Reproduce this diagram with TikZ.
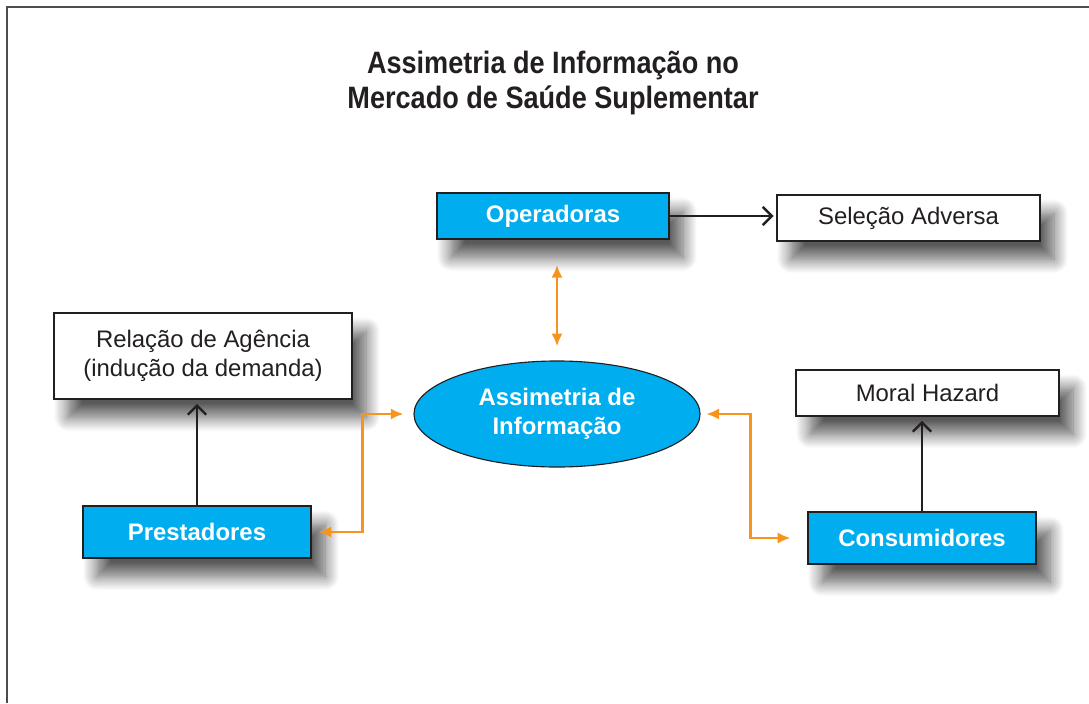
\documentclass[tikz,border=0pt]{standalone}
\usepackage{fontspec}
\setmainfont{Liberation Sans}
\usetikzlibrary{calc,arrows.meta,shapes.geometric,shadows.blur,positioning}
\definecolor{boxblue}{HTML}{00AEEF}
\definecolor{arrorange}{HTML}{F7941D}
\definecolor{darkline}{HTML}{231F20}

\begin{document}
\begin{tikzpicture}[x=0.025cm,y=-0.025cm]

\tikzset{bluebox/.style={font=\fontsize{17}{21}\selectfont\bfseries,text=white,fill=boxblue,draw=darkline,line width=0.8pt,minimum width=5.7cm,minimum height=1.3cm,inner sep=0pt,blur shadow={shadow xshift=10pt,shadow yshift=-13pt,shadow blur radius=10pt,shadow blur steps=14,shadow opacity=65}},
whitebox/.style={font=\fontsize{17}{21}\selectfont,text=darkline,fill=white,draw=darkline,line width=0.8pt,minimum width=6.575cm,minimum height=1.15cm,inner sep=0pt,align=center,blur shadow={shadow xshift=10pt,shadow yshift=-13pt,shadow blur radius=10pt,shadow blur steps=14,shadow opacity=65}},
blackarrow/.style={draw=darkline,line width=2pt,-{Straight Barb[length=2.3mm,width=4.6mm,line width=1.7pt]}},
orangearrow/.style={draw=arrorange,line width=2pt,{Latex[length=3.2mm,width=2.8mm]}-{Latex[length=3.2mm,width=2.8mm]}},
titletext/.style={font=\fontsize{22}{25}\selectfont\bfseries,align=center}}

\useasboundingbox (0,0) rectangle (1089,703);

% Frame
\draw[darkline!80,line width=0.8pt] (7,703) -- (7,7) -- (1089,7);

% Title
\node[titletext,text=darkline] (title) at (553,83) {\scalebox{0.876}[1]{Assimetria de Informação no}\\\scalebox{0.876}[1]{Mercado de Saúde Suplementar}};

% Boxes
\node[bluebox,minimum width=5.8cm,minimum height=1.15cm] (operadoras) at (553,216) {Operadoras};
\node[whitebox] (selecaoAdv) at (908.5,218) {Seleção Adversa};
\node[whitebox,minimum width=7.45cm,minimum height=2.15cm] (relAgencia) at (203,356) {Relação de Agência\\(indução da demanda)};
\node[bluebox] (prestadores) at (197,532) {Prestadores};
\node[whitebox] (moralHaz) at (927.5,393) {Moral Hazard};
\node[bluebox] (consumidores) at (922,538) {Consumidores};

% Centre ellipse
\node[shape=ellipse,fill=boxblue,draw=darkline,line width=0.8pt,minimum width=7.15cm,minimum height=2.65cm,inner sep=0pt,align=center,text=white,font=\fontsize{17}{21}\selectfont\bfseries] (assimInfo) at (557,414) {Assimetria de\\Informação};

% Black arrows
\draw[blackarrow,shorten >=2pt] (operadoras.east) -- (selecaoAdv.west |- operadoras.east);
\draw[blackarrow,shorten >=3pt] (prestadores.north) -- (prestadores.north |- relAgencia.south);
\draw[blackarrow,shorten >=3pt] (consumidores.north) -- (consumidores.north |- moralHaz.south);

% Orange arrows
\draw[orangearrow,shorten <=18pt,shorten >=10pt] (assimInfo.north |- operadoras.south) -- (assimInfo.north);
\draw[orangearrow,shorten <=5pt,shorten >=7pt] (prestadores.east) -- ++(51,0) |- (assimInfo.west);
\draw[orangearrow,shorten <=4pt,shorten >=12pt] (assimInfo.east) -- ++(50,0) |- (consumidores.west);

\end{tikzpicture}
\end{document}
